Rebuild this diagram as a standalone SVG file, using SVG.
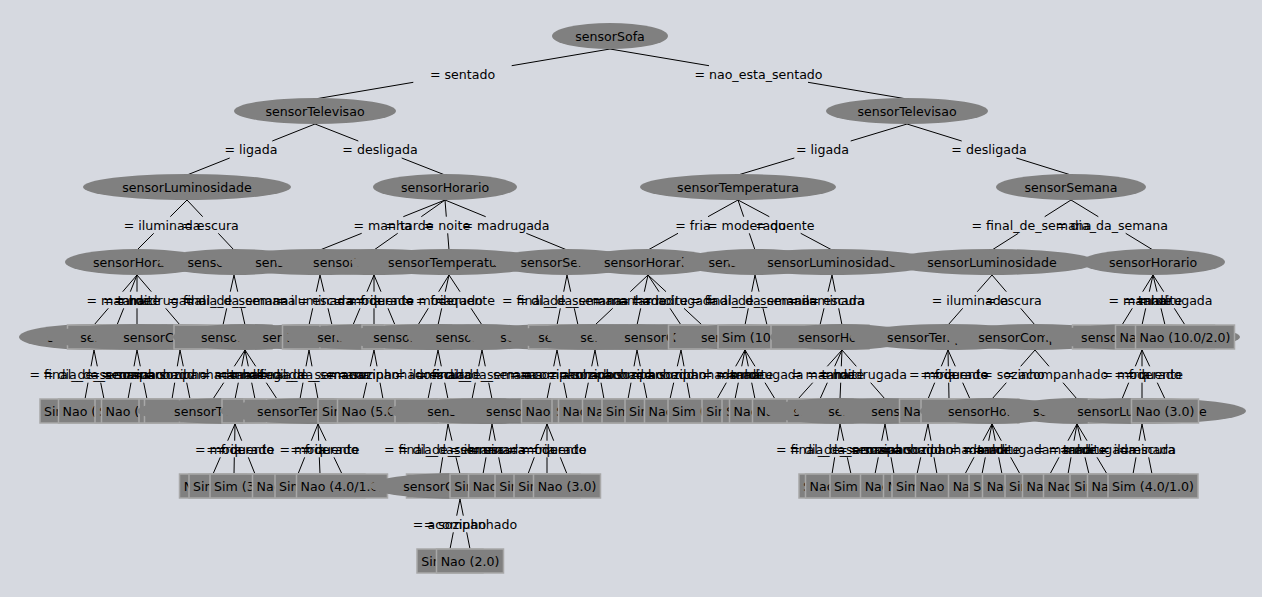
<svg xmlns="http://www.w3.org/2000/svg" width="1262" height="597" viewBox="0 0 1262 597">
<style>
text{font-family:"DejaVu Sans","Liberation Sans",sans-serif;font-size:12.6px;fill:#000;text-anchor:middle}
.e{fill:#808080}
.r{fill:#808080;stroke:#a8a8a8;stroke-width:1.5}
#connectors path{stroke:#000;stroke-width:1;fill:none}
</style>
<rect width="1262" height="597" fill="#d6d9e0"/>
<g id="connectors">
<path d="M610 49L511.7 65.7M413.3 82.3L315 99"/>
<path d="M610 49L709 65.7M808 82.3L907 99"/>
<path d="M315 124L272.3 141M229.7 158L187 175"/>
<path d="M315 124L358.3 141M401.7 158L445 175"/>
<path d="M907 124L850.7 141M794.3 158L738 175"/>
<path d="M907 124L961.7 141M1016.3 158L1071 175"/>
<path d="M187 200L170.3 216.7M153.7 233.3L137 250"/>
<path d="M187 200L202.7 216.7M218.3 233.3L234 250"/>
<path d="M445 200L403.3 216.7M361.7 233.3L320 250"/>
<path d="M445 200L421.3 216.7M397.7 233.3L374 250"/>
<path d="M445 200L446.3 216.7M447.7 233.3L449 250"/>
<path d="M445 200L485.7 216.7M526.3 233.3L567 250"/>
<path d="M738 200L708 216.7M678 233.3L648 250"/>
<path d="M738 200L743.7 216.7M749.3 233.3L755 250"/>
<path d="M738 200L769.3 216.7M800.7 233.3L832 250"/>
<path d="M1071 200L1044.7 216.7M1018.3 233.3L992 250"/>
<path d="M1071 200L1098.3 216.7M1125.7 233.3L1153 250"/>
<path d="M137 275L122.7 291.7M108.3 308.3L94 325"/>
<path d="M137 275L130.3 291.7M123.7 308.3L117 325"/>
<path d="M137 275L137 291.7M137 308.3L137 325"/>
<path d="M137 275L151.3 291.7M165.7 308.3L180 325"/>
<path d="M234 275L230.3 291.7M226.7 308.3L223 325"/>
<path d="M234 275L237.7 291.7M241.3 308.3L245 325"/>
<path d="M320 275L316.3 291.7M312.7 308.3L309 325"/>
<path d="M320 275L324 291.7M328 308.3L332 325"/>
<path d="M374 275L367 291.7M360 308.3L353 325"/>
<path d="M374 275L374 291.7M374 308.3L374 325"/>
<path d="M374 275L381 291.7M388 308.3L395 325"/>
<path d="M449 275L438.7 291.7M428.3 308.3L418 325"/>
<path d="M449 275L445.3 291.7M441.7 308.3L438 325"/>
<path d="M449 275L460 291.7M471 308.3L482 325"/>
<path d="M567 275L563.7 291.7M560.3 308.3L557 325"/>
<path d="M567 275L570.7 291.7M574.3 308.3L578 325"/>
<path d="M648 275L630.3 291.7M612.7 308.3L595 325"/>
<path d="M648 275L644.3 291.7M640.7 308.3L637 325"/>
<path d="M648 275L659 291.7M670 308.3L681 325"/>
<path d="M648 275L666 291.7M684 308.3L702 325"/>
<path d="M755 275L751.7 291.7M748.3 308.3L745 325"/>
<path d="M755 275L759 291.7M763 308.3L767 325"/>
<path d="M832 275L828 291.7M824 308.3L820 325"/>
<path d="M832 275L835.3 291.7M838.7 308.3L842 325"/>
<path d="M992 275L977.3 291.7M962.7 308.3L948 325"/>
<path d="M992 275L1006.3 291.7M1020.7 308.3L1035 325"/>
<path d="M1153 275L1142.7 291.7M1132.3 308.3L1122 325"/>
<path d="M1153 275L1149.3 291.7M1145.7 308.3L1142 325"/>
<path d="M1153 275L1157 291.7M1161 308.3L1165 325"/>
<path d="M1153 275L1163.7 291.7M1174.3 308.3L1185 325"/>
<path d="M94 350L91 366.3M88 382.7L85 399"/>
<path d="M94 350L97.3 366.3M100.7 382.7L104 399"/>
<path d="M137 350L134 366.3M131 382.7L128 399"/>
<path d="M137 350L140.3 366.3M143.7 382.7L147 399"/>
<path d="M180 350L177.3 366.3M174.7 382.7L172 399"/>
<path d="M180 350L183.3 366.3M186.7 382.7L190 399"/>
<path d="M245 350L234.3 366.3M223.7 382.7L213 399"/>
<path d="M245 350L241.7 366.3M238.3 382.7L235 399"/>
<path d="M245 350L248.3 366.3M251.7 382.7L255 399"/>
<path d="M245 350L255.7 366.3M266.3 382.7L277 399"/>
<path d="M309 350L306 366.3M303 382.7L300 399"/>
<path d="M309 350L312 366.3M315 382.7L318 399"/>
<path d="M374 350L370.3 366.3M366.7 382.7L363 399"/>
<path d="M374 350L377 366.3M380 382.7L383 399"/>
<path d="M438 350L434.7 366.3M431.3 382.7L428 399"/>
<path d="M438 350L441.3 366.3M444.7 382.7L448 399"/>
<path d="M482 350L478.7 366.3M475.3 382.7L472 399"/>
<path d="M482 350L485.3 366.3M488.7 382.7L492 399"/>
<path d="M557 350L553.7 366.3M550.3 382.7L547 399"/>
<path d="M557 350L560.3 366.3M563.7 382.7L567 399"/>
<path d="M595 350L591.7 366.3M588.3 382.7L585 399"/>
<path d="M595 350L598 366.3M601 382.7L604 399"/>
<path d="M637 350L634 366.3M631 382.7L628 399"/>
<path d="M637 350L640.3 366.3M643.7 382.7L647 399"/>
<path d="M681 350L677.3 366.3M673.7 382.7L670 399"/>
<path d="M681 350L684 366.3M687 382.7L690 399"/>
<path d="M745 350L735.7 366.3M726.3 382.7L717 399"/>
<path d="M745 350L741.7 366.3M738.3 382.7L735 399"/>
<path d="M745 350L748.3 366.3M751.7 382.7L755 399"/>
<path d="M745 350L755 366.3M765 382.7L775 399"/>
<path d="M842 350L827.3 366.3M812.7 382.7L798 399"/>
<path d="M842 350L834.7 366.3M827.3 382.7L820 399"/>
<path d="M842 350L841.3 366.3M840.7 382.7L840 399"/>
<path d="M842 350L856.3 366.3M870.7 382.7L885 399"/>
<path d="M948 350L941.3 366.3M934.7 382.7L928 399"/>
<path d="M948 350L948.3 366.3M948.7 382.7L949 399"/>
<path d="M948 350L955.3 366.3M962.7 382.7L970 399"/>
<path d="M1035 350L1020.7 366.3M1006.3 382.7L992 399"/>
<path d="M1035 350L1049 366.3M1063 382.7L1077 399"/>
<path d="M1142 350L1135.3 366.3M1128.7 382.7L1122 399"/>
<path d="M1142 350L1142 366.3M1142 382.7L1142 399"/>
<path d="M1142 350L1149.7 366.3M1157.3 382.7L1165 399"/>
<path d="M235 424L227.7 440.7M220.3 457.3L213 474"/>
<path d="M235 424L234.7 440.7M234.3 457.3L234 474"/>
<path d="M235 424L241.7 440.7M248.3 457.3L255 474"/>
<path d="M318 424L311.3 440.7M304.7 457.3L298 474"/>
<path d="M318 424L318.7 440.7M319.3 457.3L320 474"/>
<path d="M318 424L326 440.7M334 457.3L342 474"/>
<path d="M448 424L445.3 440.7M442.7 457.3L440 474"/>
<path d="M448 424L452 440.7M456 457.3L460 474"/>
<path d="M492 424L489 440.7M486 457.3L483 474"/>
<path d="M492 424L495.3 440.7M498.7 457.3L502 474"/>
<path d="M547 424L540.7 440.7M534.3 457.3L528 474"/>
<path d="M547 424L547 440.7M547 457.3L547 474"/>
<path d="M547 424L553.7 440.7M560.3 457.3L567 474"/>
<path d="M840 424L837.3 440.7M834.7 457.3L832 474"/>
<path d="M840 424L843.7 440.7M847.3 457.3L851 474"/>
<path d="M885 424L881.7 440.7M878.3 457.3L875 474"/>
<path d="M885 424L888 440.7M891 457.3L894 474"/>
<path d="M928 424L924.3 440.7M920.7 457.3L917 474"/>
<path d="M928 424L931 440.7M934 457.3L937 474"/>
<path d="M992 424L983 440.7M974 457.3L965 474"/>
<path d="M992 424L988.7 440.7M985.3 457.3L982 474"/>
<path d="M992 424L995.3 440.7M998.7 457.3L1002 474"/>
<path d="M992 424L1001.3 440.7M1010.7 457.3L1020 474"/>
<path d="M1077 424L1068 440.7M1059 457.3L1050 474"/>
<path d="M1077 424L1074 440.7M1071 457.3L1068 474"/>
<path d="M1077 424L1081 440.7M1085 457.3L1089 474"/>
<path d="M1077 424L1087 440.7M1097 457.3L1107 474"/>
<path d="M1142 424L1139 440.7M1136 457.3L1133 474"/>
<path d="M1142 424L1145.3 440.7M1148.7 457.3L1152 474"/>
<path d="M460 499L456.7 515.7M453.3 532.3L450 549"/>
<path d="M460 499L463.3 515.7M466.7 532.3L470 549"/>
</g>
<g id="edge-labels">
<text x="462.5" y="78.5">= sentado</text>
<text x="758.5" y="78.5">= nao_esta_sentado</text>
<text x="251" y="154">= ligada</text>
<text x="380" y="154">= desligada</text>
<text x="822.5" y="154">= ligada</text>
<text x="989" y="154">= desligada</text>
<text x="162" y="229.5">= iluminada</text>
<text x="210.5" y="229.5">= escura</text>
<text x="382.5" y="229.5">= manha</text>
<text x="409.5" y="229.5">= tarde</text>
<text x="447" y="229.5">= noite</text>
<text x="506" y="229.5">= madrugada</text>
<text x="693" y="229.5">= fria</text>
<text x="746.5" y="229.5">= moderado</text>
<text x="785" y="229.5">= quente</text>
<text x="1031.5" y="229.5">= final_de_semana</text>
<text x="1112" y="229.5">= dia_da_semana</text>
<text x="115.5" y="304.5">= manha</text>
<text x="127" y="304.5">= tarde</text>
<text x="137" y="304.5">= noite</text>
<text x="158.5" y="304.5">= madrugada</text>
<text x="228.5" y="304.5">= final_de_semana</text>
<text x="239.5" y="304.5">= dia_da_semana</text>
<text x="314.5" y="304.5">= iluminada</text>
<text x="326" y="304.5">= escura</text>
<text x="363.5" y="304.5">= fria</text>
<text x="374" y="304.5">= moderado</text>
<text x="384.5" y="304.5">= quente</text>
<text x="433.5" y="304.5">= fria</text>
<text x="443.5" y="304.5">= moderado</text>
<text x="465.5" y="304.5">= quente</text>
<text x="562" y="304.5">= final_de_semana</text>
<text x="572.5" y="304.5">= dia_da_semana</text>
<text x="621.5" y="304.5">= manha</text>
<text x="642.5" y="304.5">= tarde</text>
<text x="664.5" y="304.5">= noite</text>
<text x="675" y="304.5">= madrugada</text>
<text x="750" y="304.5">= final_de_semana</text>
<text x="761" y="304.5">= dia_da_semana</text>
<text x="826" y="304.5">= iluminada</text>
<text x="837" y="304.5">= escura</text>
<text x="970" y="304.5">= iluminada</text>
<text x="1013.5" y="304.5">= escura</text>
<text x="1137.5" y="304.5">= manha</text>
<text x="1147.5" y="304.5">= tarde</text>
<text x="1159" y="304.5">= noite</text>
<text x="1169" y="304.5">= madrugada</text>
<text x="89.5" y="379">= final_de_semana</text>
<text x="99" y="379">= dia_da_semana</text>
<text x="132.5" y="379">= sozinho</text>
<text x="142" y="379">= acompanhado</text>
<text x="176" y="379">= sozinho</text>
<text x="185" y="379">= acompanhado</text>
<text x="229" y="379">= manha</text>
<text x="240" y="379">= tarde</text>
<text x="250" y="379">= noite</text>
<text x="261" y="379">= madrugada</text>
<text x="304.5" y="379">= final_de_semana</text>
<text x="313.5" y="379">= dia_da_semana</text>
<text x="368.5" y="379">= sozinho</text>
<text x="378.5" y="379">= acompanhado</text>
<text x="433" y="379">= iluminada</text>
<text x="443" y="379">= escura</text>
<text x="477" y="379">= final_de_semana</text>
<text x="487" y="379">= dia_da_semana</text>
<text x="552" y="379">= sozinho</text>
<text x="562" y="379">= acompanhado</text>
<text x="590" y="379">= sozinho</text>
<text x="599.5" y="379">= acompanhado</text>
<text x="632.5" y="379">= sozinho</text>
<text x="642" y="379">= acompanhado</text>
<text x="675.5" y="379">= sozinho</text>
<text x="685.5" y="379">= acompanhado</text>
<text x="731" y="379">= manha</text>
<text x="740" y="379">= tarde</text>
<text x="750" y="379">= noite</text>
<text x="760" y="379">= madrugada</text>
<text x="820" y="379">= manha</text>
<text x="831" y="379">= tarde</text>
<text x="841" y="379">= noite</text>
<text x="863.5" y="379">= madrugada</text>
<text x="938" y="379">= fria</text>
<text x="948.5" y="379">= moderado</text>
<text x="959" y="379">= quente</text>
<text x="1013.5" y="379">= sozinho</text>
<text x="1056" y="379">= acompanhado</text>
<text x="1132" y="379">= fria</text>
<text x="1142" y="379">= moderado</text>
<text x="1153.5" y="379">= quente</text>
<text x="224" y="453.5">= fria</text>
<text x="234.5" y="453.5">= moderado</text>
<text x="245" y="453.5">= quente</text>
<text x="308" y="453.5">= fria</text>
<text x="319" y="453.5">= moderado</text>
<text x="330" y="453.5">= quente</text>
<text x="444" y="453.5">= final_de_semana</text>
<text x="454" y="453.5">= dia_da_semana</text>
<text x="487.5" y="453.5">= iluminada</text>
<text x="497" y="453.5">= escura</text>
<text x="537.5" y="453.5">= fria</text>
<text x="547" y="453.5">= moderado</text>
<text x="557" y="453.5">= quente</text>
<text x="836" y="453.5">= final_de_semana</text>
<text x="845.5" y="453.5">= dia_da_semana</text>
<text x="880" y="453.5">= sozinho</text>
<text x="889.5" y="453.5">= acompanhado</text>
<text x="922.5" y="453.5">= sozinho</text>
<text x="932.5" y="453.5">= acompanhado</text>
<text x="978.5" y="453.5">= manha</text>
<text x="987" y="453.5">= tarde</text>
<text x="997" y="453.5">= noite</text>
<text x="1006" y="453.5">= madrugada</text>
<text x="1063.5" y="453.5">= manha</text>
<text x="1072.5" y="453.5">= tarde</text>
<text x="1083" y="453.5">= noite</text>
<text x="1092" y="453.5">= madrugada</text>
<text x="1137.5" y="453.5">= iluminada</text>
<text x="1147" y="453.5">= escura</text>
<text x="455" y="528.5">= sozinho</text>
<text x="465" y="528.5">= acompanhado</text>
</g>
<g id="n0_610"><ellipse class="e" cx="610" cy="36" rx="58" ry="13"/><text x="610" y="40.5">sensorSofa</text></g>
<g id="n1_315"><ellipse class="e" cx="315" cy="111" rx="81" ry="13"/><text x="315" y="115.5">sensorTelevisao</text></g>
<g id="n1_907"><ellipse class="e" cx="907" cy="111" rx="81" ry="13"/><text x="907" y="115.5">sensorTelevisao</text></g>
<g id="n2_187"><ellipse class="e" cx="187" cy="187" rx="104" ry="13"/><text x="187" y="191.5">sensorLuminosidade</text></g>
<g id="n2_445"><ellipse class="e" cx="445" cy="187" rx="72" ry="13"/><text x="445" y="191.5">sensorHorario</text></g>
<g id="n2_738"><ellipse class="e" cx="738" cy="187" rx="98" ry="13"/><text x="738" y="191.5">sensorTemperatura</text></g>
<g id="n2_1071"><ellipse class="e" cx="1071" cy="187" rx="75" ry="13"/><text x="1071" y="191.5">sensorSemana</text></g>
<g id="n3_137"><ellipse class="e" cx="137" cy="262" rx="72" ry="13"/><text x="137" y="266.5">sensorHorario</text></g>
<g id="n3_234"><ellipse class="e" cx="234" cy="262" rx="75" ry="13"/><text x="234" y="266.5">sensorSemana</text></g>
<g id="n3_320"><ellipse class="e" cx="320" cy="262" rx="104" ry="13"/><text x="320" y="266.5">sensorLuminosidade</text></g>
<g id="n3_374"><ellipse class="e" cx="374" cy="262" rx="98" ry="13"/><text x="374" y="266.5">sensorTemperatura</text></g>
<g id="n3_449"><ellipse class="e" cx="449" cy="262" rx="98" ry="13"/><text x="449" y="266.5">sensorTemperatura</text></g>
<g id="n3_567"><ellipse class="e" cx="567" cy="262" rx="75" ry="13"/><text x="567" y="266.5">sensorSemana</text></g>
<g id="n3_648"><ellipse class="e" cx="648" cy="262" rx="72" ry="13"/><text x="648" y="266.5">sensorHorario</text></g>
<g id="n3_755"><ellipse class="e" cx="755" cy="262" rx="75" ry="13"/><text x="755" y="266.5">sensorSemana</text></g>
<g id="n3_832"><ellipse class="e" cx="832" cy="262" rx="104" ry="13"/><text x="832" y="266.5">sensorLuminosidade</text></g>
<g id="n3_992"><ellipse class="e" cx="992" cy="262" rx="104" ry="13"/><text x="992" y="266.5">sensorLuminosidade</text></g>
<g id="n3_1153"><ellipse class="e" cx="1153" cy="262" rx="72" ry="13"/><text x="1153" y="266.5">sensorHorario</text></g>
<g id="n4_94"><ellipse class="e" cx="94" cy="337" rx="75" ry="13"/><text x="94" y="341.5">sensorSemana</text></g>
<g id="n4_117"><rect class="r" x="67.5" y="325" width="99" height="24"/><text x="117" y="341.5">Nao (12.0/2.0)</text></g>
<g id="n4_137"><ellipse class="e" cx="137" cy="337" rx="90" ry="13"/><text x="137" y="341.5">sensorCompanhia</text></g>
<g id="n4_180"><ellipse class="e" cx="180" cy="337" rx="90" ry="13"/><text x="180" y="341.5">sensorCompanhia</text></g>
<g id="n4_223"><rect class="r" x="174" y="325" width="98" height="24"/><text x="223" y="341.5">Sim (10.0/1.0)</text></g>
<g id="n4_245"><ellipse class="e" cx="245" cy="337" rx="72" ry="13"/><text x="245" y="341.5">sensorHorario</text></g>
<g id="n4_309"><ellipse class="e" cx="309" cy="337" rx="75" ry="13"/><text x="309" y="341.5">sensorSemana</text></g>
<g id="n4_332"><rect class="r" x="282.5" y="325" width="99" height="24"/><text x="332" y="341.5">Nao (11.0/2.0)</text></g>
<g id="n4_353"><rect class="r" x="320" y="325" width="66" height="24"/><text x="353" y="341.5">Sim (2.0)</text></g>
<g id="n4_374"><ellipse class="e" cx="374" cy="337" rx="90" ry="13"/><text x="374" y="341.5">sensorCompanhia</text></g>
<g id="n4_395"><rect class="r" x="362" y="325" width="66" height="24"/><text x="395" y="341.5">Sim (2.0)</text></g>
<g id="n4_418"><rect class="r" x="384.5" y="325" width="67" height="24"/><text x="418" y="341.5">Nao (2.0)</text></g>
<g id="n4_438"><ellipse class="e" cx="438" cy="337" rx="104" ry="13"/><text x="438" y="341.5">sensorLuminosidade</text></g>
<g id="n4_482"><ellipse class="e" cx="482" cy="337" rx="75" ry="13"/><text x="482" y="341.5">sensorSemana</text></g>
<g id="n4_557"><ellipse class="e" cx="557" cy="337" rx="90" ry="13"/><text x="557" y="341.5">sensorCompanhia</text></g>
<g id="n4_578"><rect class="r" x="528.5" y="325" width="99" height="24"/><text x="578" y="341.5">Nao (10.0/2.0)</text></g>
<g id="n4_595"><ellipse class="e" cx="595" cy="337" rx="90" ry="13"/><text x="595" y="341.5">sensorCompanhia</text></g>
<g id="n4_637"><ellipse class="e" cx="637" cy="337" rx="90" ry="13"/><text x="637" y="341.5">sensorCompanhia</text></g>
<g id="n4_681"><ellipse class="e" cx="681" cy="337" rx="90" ry="13"/><text x="681" y="341.5">sensorCompanhia</text></g>
<g id="n4_702"><rect class="r" x="668.5" y="325" width="67" height="24"/><text x="702" y="341.5">Nao (2.0)</text></g>
<g id="n4_745"><ellipse class="e" cx="745" cy="337" rx="72" ry="13"/><text x="745" y="341.5">sensorHorario</text></g>
<g id="n4_767"><rect class="r" x="718" y="325" width="98" height="24"/><text x="767" y="341.5">Sim (10.0/1.0)</text></g>
<g id="n4_820"><rect class="r" x="771" y="325" width="98" height="24"/><text x="820" y="341.5">Sim (11.0/1.0)</text></g>
<g id="n4_842"><ellipse class="e" cx="842" cy="337" rx="72" ry="13"/><text x="842" y="341.5">sensorHorario</text></g>
<g id="n4_948"><ellipse class="e" cx="948" cy="337" rx="98" ry="13"/><text x="948" y="341.5">sensorTemperatura</text></g>
<g id="n4_1035"><ellipse class="e" cx="1035" cy="337" rx="90" ry="13"/><text x="1035" y="341.5">sensorCompanhia</text></g>
<g id="n4_1122"><rect class="r" x="1072.5" y="325" width="99" height="24"/><text x="1122" y="341.5">Nao (12.0/1.0)</text></g>
<g id="n4_1142"><ellipse class="e" cx="1142" cy="337" rx="98" ry="13"/><text x="1142" y="341.5">sensorTemperatura</text></g>
<g id="n4_1165"><rect class="r" x="1115.5" y="325" width="99" height="24"/><text x="1165" y="341.5">Nao (11.0/1.0)</text></g>
<g id="n4_1185"><rect class="r" x="1135.5" y="325" width="99" height="24"/><text x="1185" y="341.5">Nao (10.0/2.0)</text></g>
<g id="n5_85"><rect class="r" x="40" y="399" width="90" height="24"/><text x="85" y="415.5">Sim (3.0/1.0)</text></g>
<g id="n5_104"><rect class="r" x="58.5" y="399" width="91" height="24"/><text x="104" y="415.5">Nao (3.0/1.0)</text></g>
<g id="n5_128"><rect class="r" x="95" y="399" width="66" height="24"/><text x="128" y="415.5">Sim (2.0)</text></g>
<g id="n5_147"><rect class="r" x="101.5" y="399" width="91" height="24"/><text x="147" y="415.5">Nao (3.0/1.0)</text></g>
<g id="n5_172"><rect class="r" x="139" y="399" width="66" height="24"/><text x="172" y="415.5">Sim (2.0)</text></g>
<g id="n5_190"><rect class="r" x="144.5" y="399" width="91" height="24"/><text x="190" y="415.5">Nao (3.0/1.0)</text></g>
<g id="n5_213"><rect class="r" x="179.5" y="399" width="67" height="24"/><text x="213" y="415.5">Nao (2.0)</text></g>
<g id="n5_235"><ellipse class="e" cx="235" cy="411" rx="98" ry="13"/><text x="235" y="415.5">sensorTemperatura</text></g>
<g id="n5_255"><rect class="r" x="222" y="399" width="66" height="24"/><text x="255" y="415.5">Sim (2.0)</text></g>
<g id="n5_277"><rect class="r" x="244" y="399" width="66" height="24"/><text x="277" y="415.5">Sim (2.0)</text></g>
<g id="n5_300"><rect class="r" x="266.5" y="399" width="67" height="24"/><text x="300" y="415.5">Nao (2.0)</text></g>
<g id="n5_318"><ellipse class="e" cx="318" cy="411" rx="98" ry="13"/><text x="318" y="415.5">sensorTemperatura</text></g>
<g id="n5_448"><ellipse class="e" cx="448" cy="411" rx="75" ry="13"/><text x="448" y="415.5">sensorSemana</text></g>
<g id="n5_363"><rect class="r" x="318" y="399" width="90" height="24"/><text x="363" y="415.5">Sim (4.0/1.0)</text></g>
<g id="n5_383"><rect class="r" x="337.5" y="399" width="91" height="24"/><text x="383" y="415.5">Nao (5.0/1.0)</text></g>
<g id="n5_428"><rect class="r" x="395" y="399" width="66" height="24"/><text x="428" y="415.5">Sim (2.0)</text></g>
<g id="n5_472"><rect class="r" x="438.5" y="399" width="67" height="24"/><text x="472" y="415.5">Nao (2.0)</text></g>
<g id="n5_492"><ellipse class="e" cx="492" cy="411" rx="104" ry="13"/><text x="492" y="415.5">sensorLuminosidade</text></g>
<g id="n5_547"><ellipse class="e" cx="547" cy="411" rx="98" ry="13"/><text x="547" y="415.5">sensorTemperatura</text></g>
<g id="n5_567"><rect class="r" x="521.5" y="399" width="91" height="24"/><text x="567" y="415.5">Nao (4.0/1.0)</text></g>
<g id="n5_585"><rect class="r" x="552" y="399" width="66" height="24"/><text x="585" y="415.5">Sim (2.0)</text></g>
<g id="n5_604"><rect class="r" x="558.5" y="399" width="91" height="24"/><text x="604" y="415.5">Nao (3.0/1.0)</text></g>
<g id="n5_628"><rect class="r" x="582.5" y="399" width="91" height="24"/><text x="628" y="415.5">Nao (4.0/1.0)</text></g>
<g id="n5_647"><rect class="r" x="602" y="399" width="90" height="24"/><text x="647" y="415.5">Sim (4.0/1.0)</text></g>
<g id="n5_670"><rect class="r" x="625" y="399" width="90" height="24"/><text x="670" y="415.5">Sim (3.0/1.0)</text></g>
<g id="n5_690"><rect class="r" x="644.5" y="399" width="91" height="24"/><text x="690" y="415.5">Nao (3.0/1.0)</text></g>
<g id="n5_717"><rect class="r" x="668" y="399" width="98" height="24"/><text x="717" y="415.5">Sim (10.0/1.0)</text></g>
<g id="n5_735"><rect class="r" x="702" y="399" width="66" height="24"/><text x="735" y="415.5">Sim (2.0)</text></g>
<g id="n5_755"><rect class="r" x="722" y="399" width="66" height="24"/><text x="755" y="415.5">Sim (2.0)</text></g>
<g id="n5_775"><rect class="r" x="729.5" y="399" width="91" height="24"/><text x="775" y="415.5">Nao (4.0/2.0)</text></g>
<g id="n5_798"><rect class="r" x="752.5" y="399" width="91" height="24"/><text x="798" y="415.5">Nao (4.0/1.0)</text></g>
<g id="n5_820"><rect class="r" x="787" y="399" width="66" height="24"/><text x="820" y="415.5">Sim (2.0)</text></g>
<g id="n5_840"><ellipse class="e" cx="840" cy="411" rx="75" ry="13"/><text x="840" y="415.5">sensorSemana</text></g>
<g id="n5_885"><ellipse class="e" cx="885" cy="411" rx="90" ry="13"/><text x="885" y="415.5">sensorCompanhia</text></g>
<g id="n5_928"><ellipse class="e" cx="928" cy="411" rx="90" ry="13"/><text x="928" y="415.5">sensorCompanhia</text></g>
<g id="n5_949"><rect class="r" x="899.5" y="399" width="99" height="24"/><text x="949" y="415.5">Nao (11.0/1.0)</text></g>
<g id="n5_970"><rect class="r" x="921" y="399" width="98" height="24"/><text x="970" y="415.5">Sim (10.0/2.0)</text></g>
<g id="n5_992"><ellipse class="e" cx="992" cy="411" rx="72" ry="13"/><text x="992" y="415.5">sensorHorario</text></g>
<g id="n5_1077"><ellipse class="e" cx="1077" cy="411" rx="72" ry="13"/><text x="1077" y="415.5">sensorHorario</text></g>
<g id="n5_1122"><rect class="r" x="1088.5" y="399" width="67" height="24"/><text x="1122" y="415.5">Nao (2.0)</text></g>
<g id="n5_1142"><ellipse class="e" cx="1142" cy="411" rx="104" ry="13"/><text x="1142" y="415.5">sensorLuminosidade</text></g>
<g id="n5_1165"><rect class="r" x="1131.5" y="399" width="67" height="24"/><text x="1165" y="415.5">Nao (3.0)</text></g>
<g id="n6_213"><rect class="r" x="179.5" y="474" width="67" height="24"/><text x="213" y="490.5">Nao (2.0)</text></g>
<g id="n6_234"><rect class="r" x="189" y="474" width="90" height="24"/><text x="234" y="490.5">Sim (3.0/1.0)</text></g>
<g id="n6_255"><rect class="r" x="210" y="474" width="90" height="24"/><text x="255" y="490.5">Sim (3.0/1.0)</text></g>
<g id="n6_298"><rect class="r" x="252.5" y="474" width="91" height="24"/><text x="298" y="490.5">Nao (3.0/1.0)</text></g>
<g id="n6_320"><rect class="r" x="275" y="474" width="90" height="24"/><text x="320" y="490.5">Sim (3.0/1.0)</text></g>
<g id="n6_342"><rect class="r" x="296.5" y="474" width="91" height="24"/><text x="342" y="490.5">Nao (4.0/1.0)</text></g>
<g id="n6_440"><rect class="r" x="406.5" y="474" width="67" height="24"/><text x="440" y="490.5">Nao (2.0)</text></g>
<g id="n6_460"><ellipse class="e" cx="460" cy="486" rx="90" ry="13"/><text x="460" y="490.5">sensorCompanhia</text></g>
<g id="n6_483"><rect class="r" x="450" y="474" width="66" height="24"/><text x="483" y="490.5">Sim (2.0)</text></g>
<g id="n6_502"><rect class="r" x="468.5" y="474" width="67" height="24"/><text x="502" y="490.5">Nao (2.0)</text></g>
<g id="n6_528"><rect class="r" x="495" y="474" width="66" height="24"/><text x="528" y="490.5">Sim (2.0)</text></g>
<g id="n6_547"><rect class="r" x="514" y="474" width="66" height="24"/><text x="547" y="490.5">Sim (2.0)</text></g>
<g id="n6_567"><rect class="r" x="533.5" y="474" width="67" height="24"/><text x="567" y="490.5">Nao (3.0)</text></g>
<g id="n6_832"><rect class="r" x="799" y="474" width="66" height="24"/><text x="832" y="490.5">Sim (2.0)</text></g>
<g id="n6_851"><rect class="r" x="805.5" y="474" width="91" height="24"/><text x="851" y="490.5">Nao (3.0/1.0)</text></g>
<g id="n6_875"><rect class="r" x="830" y="474" width="90" height="24"/><text x="875" y="490.5">Sim (3.0/1.0)</text></g>
<g id="n6_894"><rect class="r" x="860.5" y="474" width="67" height="24"/><text x="894" y="490.5">Nao (2.0)</text></g>
<g id="n6_917"><rect class="r" x="883.5" y="474" width="67" height="24"/><text x="917" y="490.5">Nao (2.0)</text></g>
<g id="n6_937"><rect class="r" x="892" y="474" width="90" height="24"/><text x="937" y="490.5">Sim (3.0/1.0)</text></g>
<g id="n6_965"><rect class="r" x="915.5" y="474" width="99" height="24"/><text x="965" y="490.5">Nao (10.0/2.0)</text></g>
<g id="n6_982"><rect class="r" x="948.5" y="474" width="67" height="24"/><text x="982" y="490.5">Nao (3.0)</text></g>
<g id="n6_1002"><rect class="r" x="969" y="474" width="66" height="24"/><text x="1002" y="490.5">Sim (2.0)</text></g>
<g id="n6_1020"><rect class="r" x="982.5" y="474" width="75" height="24"/><text x="1020" y="490.5">Nao (12.0)</text></g>
<g id="n6_1050"><rect class="r" x="1005" y="474" width="90" height="24"/><text x="1050" y="490.5">Sim (4.0/1.0)</text></g>
<g id="n6_1068"><rect class="r" x="1022.5" y="474" width="91" height="24"/><text x="1068" y="490.5">Nao (4.0/1.0)</text></g>
<g id="n6_1089"><rect class="r" x="1043.5" y="474" width="91" height="24"/><text x="1089" y="490.5">Nao (4.0/1.0)</text></g>
<g id="n6_1107"><rect class="r" x="1070" y="474" width="74" height="24"/><text x="1107" y="490.5">Sim (12.0)</text></g>
<g id="n6_1133"><rect class="r" x="1087.5" y="474" width="91" height="24"/><text x="1133" y="490.5">Nao (4.0/1.0)</text></g>
<g id="n6_1153"><rect class="r" x="1108" y="474" width="90" height="24"/><text x="1153" y="490.5">Sim (4.0/1.0)</text></g>
<g id="n7_450"><rect class="r" x="417" y="549" width="66" height="24"/><text x="450" y="565.5">Sim (2.0)</text></g>
<g id="n7_470"><rect class="r" x="436.5" y="549" width="67" height="24"/><text x="470" y="565.5">Nao (2.0)</text></g>
</svg>
